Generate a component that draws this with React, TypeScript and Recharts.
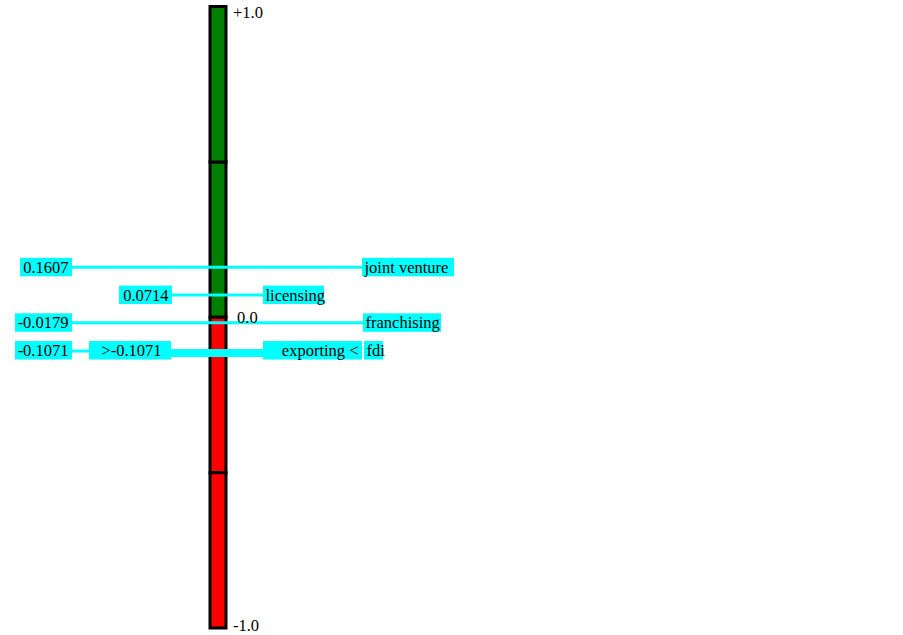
import { ComposedChart, Bar, XAxis, YAxis, ReferenceLine } from "recharts";

// scale bar, stacked in four halves
const scaleName = ["scale"];
const upperHalves = [0.5, 0.5];
const lowerHalves = [-0.5, -0.5];
const scaleTicks = [1, 0, -1];
const scaleTickLabels = ["+1.0", "0.0", "-1.0"];

// options placed on the scale
const optionNames = ["joint venture", "licensing", "franchising", "exporting < fdi"];
const optionValues = [0.1607, 0.0714, -0.0179, -0.1071];
const optionValueLabels = ["0.1607", "0.0714", "-0.0179", "-0.1071"];

const data = scaleName.map((name) => ({
  name,
  g1: upperHalves[0],
  g2: upperHalves[1],
  r1: lowerHalves[0],
  r2: lowerHalves[1],
}));

const CYAN = "#00FFFF";
const FONT = "'Liberation Serif', 'Times New Roman', serif";
const FS = 16.5;

// callout layout (pixels): left box, right box
const calloutLayout = [
  { left: [20, 72], right: [362, 454] },
  { left: [119, 172], right: [263, 324] },
  { left: [15, 72], right: [363, 441] },
  { left: [15, 72], right: [263, 362], mid: [89, 171], tail: [364, 383] },
];

function Box({ x0, x1, y, text, anchor }: { x0: number; x1: number; y: number; text: string; anchor: "start" | "end" | "middle" }) {
  const tx = anchor === "start" ? x0 + 2.5 : anchor === "end" ? x1 - 3.5 : (x0 + x1) / 2 + 1.5;
  return (
    <g>
      <rect x={x0} y={y - 9.5} width={x1 - x0} height={18.5} fill={CYAN} />
      <text x={tx} y={y + 5.5} textAnchor={anchor} fontFamily={FONT} fontSize={FS} fill="#000">
        {text}
      </text>
    </g>
  );
}

function Callout({ y, i }: { y: number; i: number }) {
  const l = calloutLayout[i];
  if (l.mid && l.tail) {
    const parts = optionNames[i].split(" fdi");
    return (
      <g>
        <line x1={l.left[1]} x2={l.mid[0]} y1={y + 0.5} y2={y + 0.5} stroke={CYAN} strokeWidth={3} />
        <rect x={l.mid[1]} y={y - 1.5} width={l.right[0] - l.mid[1]} height={8} fill={CYAN} />
        <Box x0={l.left[0]} x1={l.left[1]} y={y} text={optionValueLabels[i]} anchor="end" />
        <Box x0={l.mid[0]} x1={l.mid[1]} y={y} text={">" + optionValueLabels[i]} anchor="middle" />
        <Box x0={l.right[0]} x1={l.right[1]} y={y} text={parts[0]} anchor="end" />
        <Box x0={l.tail[0]} x1={l.tail[1]} y={y} text="fdi" anchor="start" />
      </g>
    );
  }
  return (
    <g>
      <line x1={l.left[1]} x2={l.right[0]} y1={y} y2={y} stroke={CYAN} strokeWidth={3} />
      <Box x0={l.left[0]} x1={l.left[1]} y={y} text={optionValueLabels[i]} anchor="end" />
      <Box x0={l.right[0]} x1={l.right[1]} y={y} text={optionNames[i]} anchor="start" />
    </g>
  );
}

function ScaleTick(props: any) {
  const { x, y, payload } = props;
  const v = payload.value;
  const idx = scaleTicks.indexOf(v);
  const dx = v === 0 ? 2 : -2;
  const dy = v === 1 ? 11 : v === 0 ? 6 : 3;
  return (
    <text x={x + dx} y={y + dy} textAnchor="start" fontFamily={FONT} fontSize={FS} fill="#000">
      {scaleTickLabels[idx]}
    </text>
  );
}

export default function App() {
  return (
    <div style={{ position: "absolute", left: 0, top: 0, background: "#fff" }}>
      <ComposedChart
        width={903}
        height={635}
        data={data}
        stackOffset="sign"
        margin={{ top: 6.5, right: 608, bottom: 7, left: 200 }}
        style={{ overflow: "visible" }}
      >
        <XAxis dataKey="name" hide />
        <YAxis
          yAxisId="s"
          orientation="right"
          domain={[-1, 1]}
          ticks={scaleTicks}
          interval={0}
          width={60}
          axisLine={false}
          tickLine={false}
          tickSize={0}
          tickMargin={0}
          tick={<ScaleTick />}
        />
        <Bar yAxisId="s" dataKey="g1" stackId="a" fill="#008000" stroke="#000" strokeWidth={3} barSize={16} isAnimationActive={false} />
        <Bar yAxisId="s" dataKey="g2" stackId="a" fill="#008000" stroke="#000" strokeWidth={3} barSize={16} isAnimationActive={false} />
        <Bar yAxisId="s" dataKey="r1" stackId="a" fill="#FF0000" stroke="#000" strokeWidth={3} barSize={16} isAnimationActive={false} />
        <Bar yAxisId="s" dataKey="r2" stackId="a" fill="#FF0000" stroke="#000" strokeWidth={3} barSize={16} isAnimationActive={false} />
        {optionValues.map((v, i) => (
          <ReferenceLine
            key={optionNames[i]}
            yAxisId="s"
            y={v}
            ifOverflow="visible"
            shape={(p: any) => <Callout y={p.y1} i={i} />}
          />
        ))}
      </ComposedChart>
    </div>
  );
}
